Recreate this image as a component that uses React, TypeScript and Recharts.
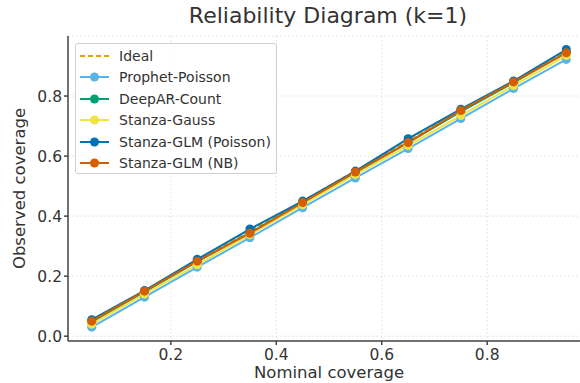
import React from "react";
import { LineChart, Line, XAxis, YAxis, CartesianGrid, Legend, Label } from "recharts";

const nominal = [0.05, 0.15, 0.25, 0.35, 0.45, 0.55, 0.65, 0.75, 0.85, 0.95];
const ideal = [0.05, 0.15, 0.25, 0.35, 0.45, 0.55, 0.65, 0.75, 0.85, 0.95];
const prophetPoisson = [0.03, 0.13, 0.23, 0.328, 0.428, 0.527, 0.625, 0.725, 0.825, 0.922];
const deepArCount = [0.048, 0.148, 0.248, 0.345, 0.445, 0.545, 0.645, 0.748, 0.845, 0.945];
const stanzaGauss = [0.04, 0.14, 0.238, 0.338, 0.438, 0.538, 0.635, 0.735, 0.835, 0.935];
const stanzaGlmPoisson = [0.055, 0.152, 0.256, 0.357, 0.45, 0.55, 0.658, 0.756, 0.85, 0.955];
const stanzaGlmNb = [0.05, 0.15, 0.25, 0.343, 0.445, 0.547, 0.645, 0.752, 0.847, 0.944];

const xTicks = [0.2, 0.4, 0.6, 0.8];
const yTicks = [0, 0.2, 0.4, 0.6, 0.8];

const series = [
    { key: "ideal", name: "Ideal", color: "#E69F00", dashed: true },
    { key: "prophet", name: "Prophet-Poisson", color: "#56B4E9" },
    { key: "deepar", name: "DeepAR-Count", color: "#009E73" },
    { key: "gauss", name: "Stanza-Gauss", color: "#F0E442" },
    { key: "glmPoisson", name: "Stanza-GLM (Poisson)", color: "#0072B2" },
    { key: "glmNb", name: "Stanza-GLM (NB)", color: "#D55E00" },
];

const data = nominal.map((x, i) => ({
    x,
    ideal: ideal[i],
    prophet: prophetPoisson[i],
    deepar: deepArCount[i],
    gauss: stanzaGauss[i],
    glmPoisson: stanzaGlmPoisson[i],
    glmNb: stanzaGlmNb[i],
}));

const FONT = "'DejaVu Sans', sans-serif";
const TEXT = "#333333";
const AXIS = "#444444";

const LegendBox = () => (
    <div
        style={{
            position: "absolute",
            left: 75,
            top: 43,
            width: 202,
            height: 131,
            border: "1px solid #d0d0d0",
            borderRadius: 3,
            background: "rgba(255,255,255,0.85)",
            fontFamily: FONT,
            fontSize: 14,
            color: TEXT,
            boxSizing: "border-box",
            paddingTop: 1,
        }}
    >
        {series.map((s) => (
            <div key={s.key} style={{ display: "flex", alignItems: "center", height: 21.5 }}>
                <svg width={40} height={14} style={{ marginLeft: 3 }}>
                    <line
                        x1={1}
                        x2={30}
                        y1={7}
                        y2={7}
                        stroke={s.color}
                        strokeWidth={2}
                        strokeDasharray={s.dashed ? "5 3" : undefined}
                    />
                    {!s.dashed && <circle cx={15.5} cy={7} r={4.5} fill={s.color} />}
                </svg>
                <span style={{ whiteSpace: "nowrap" }}>{s.name}</span>
            </div>
        ))}
    </div>
);

export default function App() {
    return (
        <div style={{ position: "absolute", left: 0, top: 0, width: 580, height: 383, overflow: "hidden", background: "#fff" }}>
            <div
                style={{
                    position: "absolute",
                    left: 0,
                    width: 656,
                    top: 3,
                    textAlign: "center",
                    fontFamily: FONT,
                    fontSize: 22,
                    color: TEXT,
                }}
            >
                Reliability Diagram (k=1)
            </div>
            <div style={{ position: "absolute", left: 0, top: 0 }}>
                <LineChart width={620} height={383} data={data} margin={{ top: 36, right: 30, bottom: 0, left: 0 }}>
                    <CartesianGrid stroke="#e0e0e0" strokeDasharray="2 2" strokeWidth={0.8} />
                    <XAxis
                        dataKey="x"
                        type="number"
                        domain={[0.005, 0.995]}
                        ticks={xTicks}
                        height={42}
                        tickFormatter={(v: number) => v.toFixed(1)}
                        tick={{ fill: TEXT, fontSize: 15.5, fontFamily: FONT }}
                        tickSize={4}
                        tickMargin={4}
                        stroke={AXIS}
                        strokeWidth={1.5}
                    >
                        <Label value="Nominal coverage" position="insideBottom" offset={5} style={{ fill: TEXT, fontSize: 16.5, fontFamily: FONT }} />
                    </XAxis>
                    <YAxis
                        type="number"
                        domain={[-0.016, 1.0]}
                        ticks={yTicks}
                        width={68}
                        tickFormatter={(v: number) => v.toFixed(1)}
                        tick={{ fill: TEXT, fontSize: 15.5, fontFamily: FONT }}
                        tickSize={4}
                        tickMargin={2}
                        stroke={AXIS}
                        strokeWidth={1.5}
                    >
                        <Label
                            value="Observed coverage"
                            angle={-90}
                            position="insideLeft"
                            offset={19}
                            style={{ fill: TEXT, fontSize: 16.5, fontFamily: FONT, textAnchor: "middle" }}
                        />
                    </YAxis>
                    <Legend content={() => <LegendBox />} wrapperStyle={{ position: "absolute", left: 0, top: 0, width: 0, height: 0 }} />
                    {series.map((s) => (
                        <Line
                            key={s.key}
                            type="linear"
                            dataKey={s.key}
                            name={s.name}
                            stroke={s.color}
                            strokeWidth={2}
                            strokeDasharray={s.dashed ? "5 3" : undefined}
                            dot={s.dashed ? false : { r: 4.5, fill: s.color, stroke: s.color, strokeWidth: 0 }}
                            activeDot={false}
                            isAnimationActive={false}
                        />
                    ))}
                </LineChart>
            </div>
        </div>
    );
}
